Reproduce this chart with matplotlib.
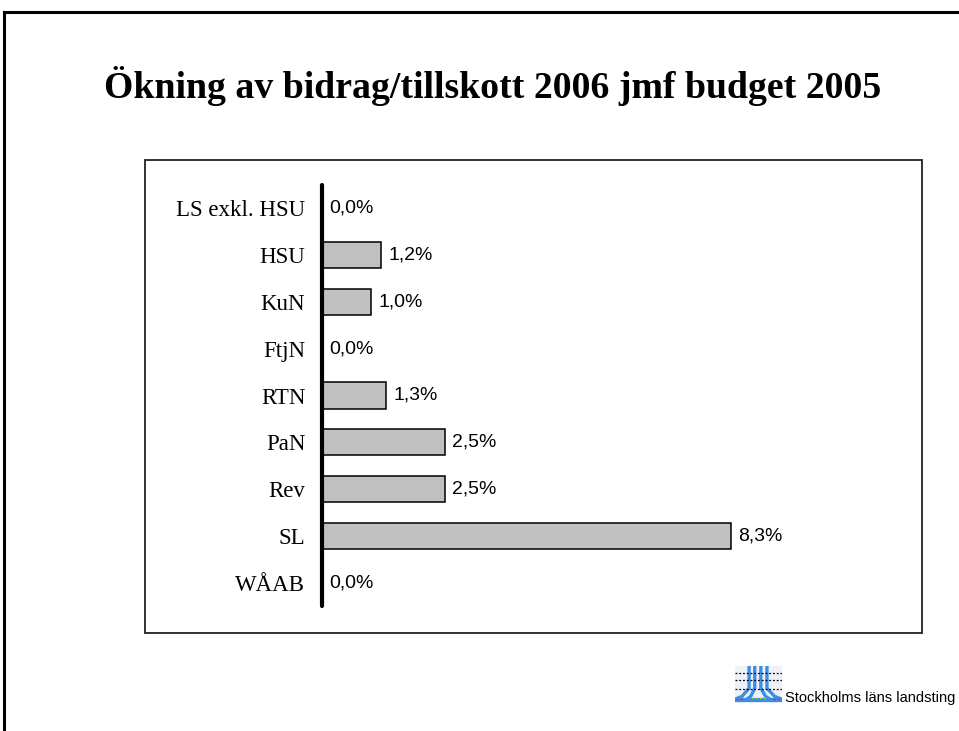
import matplotlib.pyplot as plt
from matplotlib.lines import Line2D
from matplotlib.patches import Rectangle

# Data
categories = ["LS exkl. HSU", "HSU", "KuN", "FtjN", "RTN", "PaN", "Rev", "SL", "WÅAB"]
values = [0.0, 1.2, 1.0, 0.0, 1.3, 2.5, 2.5, 8.3, 0.0]
title = "Ökning av bidrag/tillskott 2006 jmf budget 2005"
footer = "Stockholms läns landsting"

W, H = 959, 731
fig = plt.figure(figsize=(W / 100, H / 100), dpi=100)
fig.patch.set_facecolor("white")

def fx(px):
    return px / W

def fy(py):
    return 1 - py / H

# slide border (top and left edges)
fig.add_artist(Line2D([fx(4), 1.0], [fy(12), fy(12)], color="black", lw=2.2))
fig.add_artist(Line2D([fx(4), fx(4)], [fy(12), 0.0], color="black", lw=2.2))

# title
fig.text(fx(493), fy(98), title, ha="center", va="baseline",
         fontsize=27.2, fontweight="bold", family="Liberation Serif")

# chart frame
fig.add_artist(Rectangle((fx(145), fy(633)), fx(922) - fx(145), fy(160) - fy(633),
                         transform=fig.transFigure, fill=False, ec="#222222", lw=1.3))

# bar chart
ax = fig.add_axes([fx(322), fy(606), fx(900) - fx(322), fy(185) - fy(606)])
y = list(range(len(categories)))
bars = ax.barh(y, values, height=0.56, color="#c0c0c0", edgecolor="black", linewidth=1.1)
ax.set_ylim(len(categories) - 0.5, -0.5)
ax.set_xlim(0, (900 - 322) / 49.3)

ax.set_yticks(y)
ax.set_yticklabels(categories, family="Liberation Serif", fontsize=16.5)
ax.tick_params(axis="y", length=0, pad=12)
ax.set_xticks([])
for s in ["top", "right", "bottom"]:
    ax.spines[s].set_visible(False)
ax.spines["left"].set_linewidth(3)
ax.spines["left"].set_capstyle("round")
ax.patch.set_alpha(0)

for bar, v in zip(bars, values):
    ax.annotate("{:.1f}%".format(v).replace(".", ","),
                (bar.get_width(), bar.get_y() + bar.get_height() / 2),
                xytext=(5, 0), textcoords="offset points", ha="left", va="center",
                fontsize=14, family="Liberation Sans")

# logo
lax = fig.add_axes([fx(735), fy(703), fx(782) - fx(735), fy(666) - fy(703)])
lax.set_xlim(0, 1)
lax.set_ylim(0, 1)
lax.axis("off")
lax.add_patch(Rectangle((0, 0), 1, 1, color="#eef2f8"))
blue = "#3a8ee6"
for x0, x1 in [(0.3, 0.0), (0.42, 0.25), (0.55, 0.75), (0.68, 1.0)]:
    lax.plot([x0, x0, (x0 + x1) / 2, x1], [1.0, 0.4, 0.18, 0.1], color=blue, lw=2.4, solid_capstyle="butt")
lax.plot([0, 1], [0.08, 0.08], color=blue, lw=3)
for yy in [0.82, 0.62, 0.38]:
    lax.plot([0, 1], [yy, yy], color="black", lw=0.9, ls=(0, (1.5, 1.5)))
lax.plot([0.02, 0.2], [0.12, 0.12], color="#e03030", lw=1, ls=(0, (1.5, 1.5)))
lax.plot([0.8, 0.98], [0.12, 0.12], color="#e03030", lw=1, ls=(0, (1.5, 1.5)))
lax.plot([0.35, 0.65], [0.14, 0.14], color="#9acd32", lw=1, ls=(0, (1.5, 1.5)))

fig.text(fx(785), fy(702), footer, ha="left", va="baseline",
         fontsize=10.5, family="Liberation Sans")

fig.savefig("out.png", dpi=100, facecolor="white")
